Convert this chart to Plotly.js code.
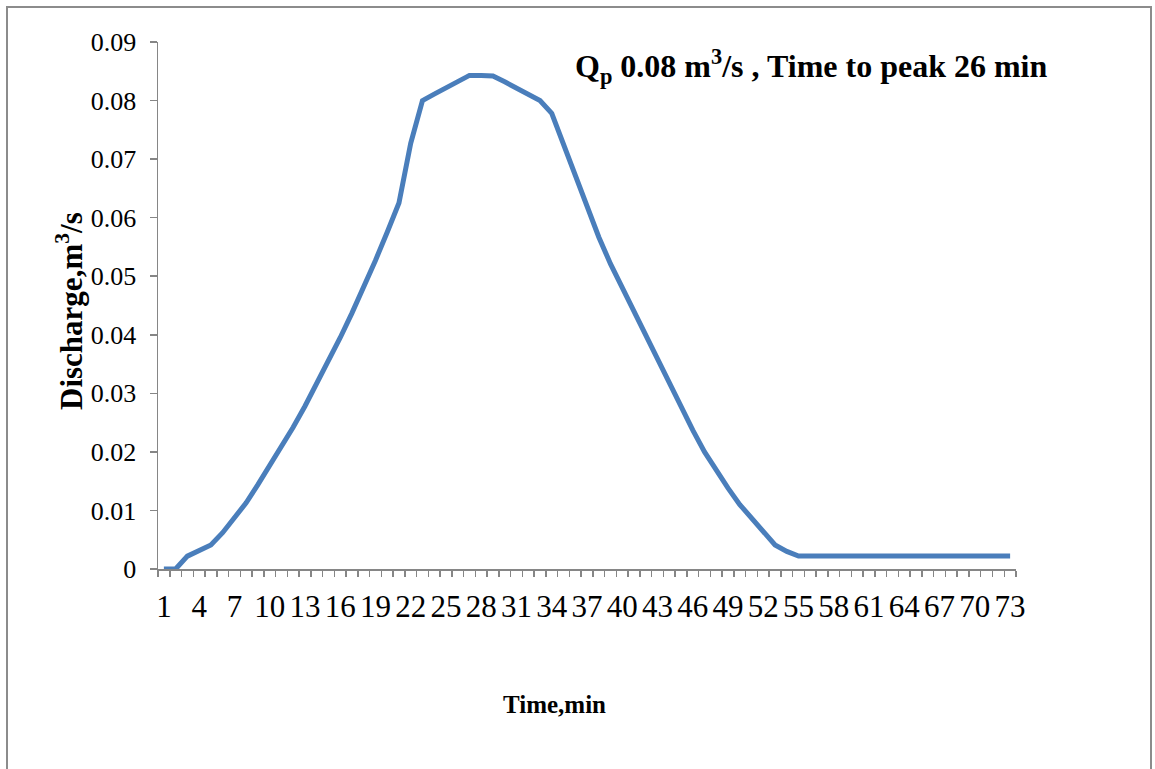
<!DOCTYPE html>
<html>
<head>
<meta charset="utf-8">
<script src="https://cdn.plot.ly/plotly-3.0.1.min.js"></script>
<style>
  html, body { margin: 0; padding: 0; background: #ffffff; overflow: hidden; }
  #frame { position: absolute; left: 6px; top: 6px; width: 1146px; height: 800px; border: 2px solid #8c8c8c; box-sizing: border-box; pointer-events: none; z-index: 5; }
  #chart { position: absolute; left: 0; top: 0; width: 1155px; height: 769px; }
</style>
</head>
<body>
<div id="chart"></div>
<div id="frame"></div>
<script>
// Time, min (categories)
const times = [1,2,3,4,5,6,7,8,9,10,11,12,13,14,15,16,17,18,19,20,
  21,22,23,24,25,26,27,28,29,30,31,32,33,34,35,36,37,38,39,40,
  41,42,43,44,45,46,47,48,49,50,51,52,53,54,55,56,57,58,59,60,
  61,62,63,64,65,66,67,68,69,70,71,72,73];

// Discharge, m3/s
const discharge = [0,0,0.0022,0.0031,0.0041,0.0062,0.0086,0.0113,0.0144,0.0176,
  0.0208,0.0242,0.0278,0.0316,0.0355,0.0395,0.0437,0.0480,0.0527,0.0575,
  0.0625,0.0727,0.0800,0.0811,0.0822,0.0832,0.0843,0.0843,0.0842,0.0832,
  0.0822,0.0811,0.0800,0.0778,0.0724,0.0671,0.0617,0.0567,0.0521,0.0480,
  0.0438,0.0397,0.0357,0.0315,0.0275,0.0237,0.0200,0.0168,0.0138,0.0110,
  0.0086,0.0062,0.0041,0.0030,0.0022,0.0022,0.0022,0.0022,0.0022,0.0022,
  0.0022,0.0022,0.0022,0.0022,0.0022,0.0022,0.0022,0.0022,0.0022,0.0022,
  0.0022,0.0022,0.0022];

// Tick labels on the x axis
const xTickVals = [1,4,7,10,13,16,19,22,25,28,31,34,37,40,43,46,49,52,55,58,61,64,67,70,73];
const xTickText = ["1","4","7","10","13","16","19","22","25","28","31","34","37","40","43","46","49","52","55","58","61","64","67","70","73"];

const yTickVals = [0,0.01,0.02,0.03,0.04,0.05,0.06,0.07,0.08,0.09];
const yTickText = ["0","0.01","0.02","0.03","0.04","0.05","0.06","0.07","0.08","0.09"];

const titleText = "Q<sub>p</sub> 0.08 m<sup>3</sup>/s , Time to peak 26 min";
const xTitle = "Time,min";
const yTitle = "Discharge,m<sup>3</sup>/s";

const serif = "Liberation Serif, Times New Roman, serif";
const axisGray = "#868686";

const trace = {
  x: times,
  y: discharge,
  type: "scatter",
  mode: "lines",
  line: { color: "#4A7EBB", width: 5 },
  hoverinfo: "skip"
};

const layout = {
  width: 1155,
  height: 769,
  margin: { l: 158, r: 139, t: 42, b: 200 },
  paper_bgcolor: "#ffffff",
  plot_bgcolor: "#ffffff",
  showlegend: false,
  xaxis: {
    range: [0.5, 73.5],
    tickmode: "array",
    tickvals: xTickVals,
    ticktext: xTickText,
    ticks: "",
    ticklabelstandoff: 9,
    tickfont: { family: serif, size: 31, color: "#000000" },
    showline: true,
    linecolor: axisGray,
    linewidth: 1.5,
    showgrid: false,
    zeroline: false,
    minor: { tick0: 0.5, dtick: 1, ticks: "outside", ticklen: 6, tickcolor: axisGray, tickwidth: 1.5, showgrid: false }
  },
  yaxis: {
    range: [0, 0.09],
    tickmode: "array",
    tickvals: yTickVals,
    ticktext: yTickText,
    ticks: "outside",
    ticklen: 7,
    tickwidth: 1.5,
    tickcolor: axisGray,
    ticklabelstandoff: 8,
    tickfont: { family: serif, size: 26, color: "#000000" },
    showline: true,
    linecolor: axisGray,
    linewidth: 1.5,
    showgrid: false,
    zeroline: false
  },
  annotations: [
    {
      xref: "paper", yref: "paper",
      x: 0.761, y: 0.954,
      xanchor: "center", yanchor: "middle",
      text: "<b>" + titleText + "</b>",
      showarrow: false,
      font: { family: serif, size: 32, color: "#000000" }
    },
    {
      xref: "paper", yref: "paper",
      x: 0.4627, y: -0.258,
      xanchor: "center", yanchor: "middle",
      text: "<b>" + xTitle + "</b>",
      showarrow: false,
      font: { family: serif, size: 25, color: "#000000" }
    },
    {
      xref: "paper", yref: "paper",
      x: -0.1026, y: 0.4896,
      xanchor: "center", yanchor: "middle",
      textangle: -90,
      text: "<b>" + yTitle + "</b>",
      showarrow: false,
      font: { family: serif, size: 31, color: "#000000" }
    }
  ]
};

Plotly.newPlot("chart", [trace], layout, { staticPlot: true, displayModeBar: false });
</script>
</body>
</html>
